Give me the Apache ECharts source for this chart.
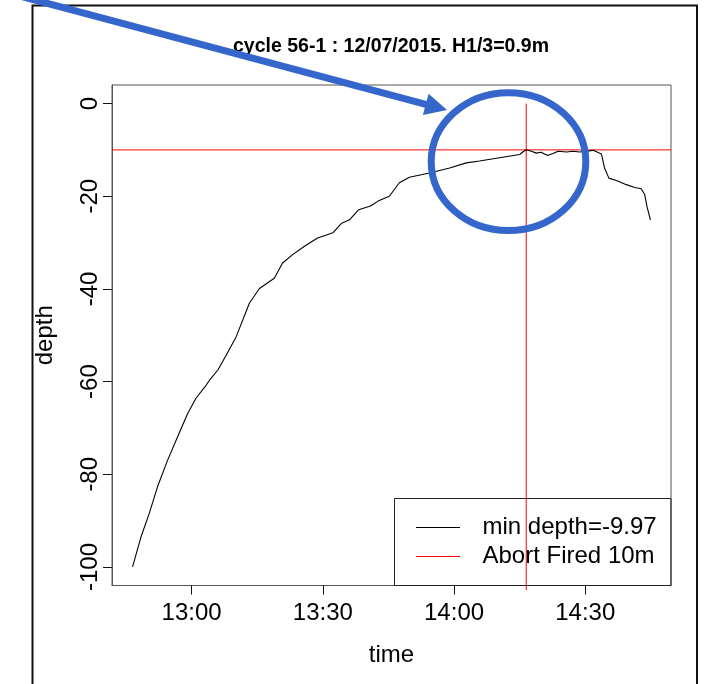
<!DOCTYPE html>
<html>
<head>
<meta charset="utf-8">
<script src="https://cdn.jsdelivr.net/npm/echarts@6/dist/echarts.min.js"></script>
<style>
  html, body { margin: 0; padding: 0; background: #ffffff; }
  #chart { width: 708px; height: 684px; }
</style>
</head>
<body>
<div id="chart"></div>
<script>
// Dive profile for cycle 56-1: time in minutes after midnight, depth in metres.
const timeMinutes = [
  766.5, 768.4, 770.3, 772.2, 774.5, 776.8, 779.1, 781.0, 783.3, 784.1,
  786.0, 787.9, 790.2, 793.2, 795.5, 798.9, 800.8, 803.1, 805.8, 808.8,
  812.3, 814.2, 816.1, 818.2, 820.9, 822.9, 825.2, 827.5, 829.8, 834.4,
  839.0, 842.8, 845.8, 850.4, 855.0, 855.7, 856.5, 857.7, 858.8, 859.9,
  861.4, 862.6, 863.8, 865.7, 867.2, 868.7, 871.8, 873.7, 874.4, 875.4,
  877.1, 879.4, 881.3, 882.8, 883.6, 884.1, 884.9
];
const depthValues = [
  -100.0, -93.6, -88.5, -82.7, -77.0, -71.9, -66.9, -63.6, -60.8, -59.7,
  -57.5, -54.3, -50.3, -43.1, -39.9, -37.7, -34.4, -32.6, -30.8, -29.0,
  -27.9, -25.9, -25.1, -22.9, -22.1, -20.9, -20.0, -17.1, -15.9, -15.0,
  -13.9, -12.8, -12.4, -11.7, -11.0, -10.45, -9.97, -10.3, -10.7, -10.5,
  -11.2, -10.8, -10.3, -10.45, -10.3, -10.45, -10.1, -10.9, -13.9, -16.1,
  -16.6, -17.5, -18.1, -18.4, -19.7, -22.2, -25.1
];

// Abort threshold (horizontal) and the moment it fired (vertical).
const abortDepth = -10;
const abortTime = 856.5;
const abortMarkerDepths = [0, -105];

// Axis extents and tick positions.
const timeRange = [761.8, 889.6];
const depthRange = [-104, 4];
const timeTicks = [780, 810, 840, 870];
const depthTicks = [-100, -80, -60, -40, -20, 0];

const titleText = 'cycle 56-1 : 12/07/2015. H1/3=0.9m';
const legendLabels = ['min depth=-9.97', 'Abort Fired 10m'];
const xAxisName = 'time';
const yAxisName = 'depth';

function hhmm(v) {
  const h = Math.floor(v / 60);
  const m = Math.round(v - h * 60);
  return h + ':' + String(m).padStart(2, '0');
}

const FONT = "'Liberation Sans', Arial, Helvetica, sans-serif";
const BLUE = '#3466CC';

const profile = timeMinutes.map((t, i) => [t, depthValues[i]]);
const thresholdLine = timeRange.map(t => [t, abortDepth]);
const fireLine = abortMarkerDepths.map(d => [abortTime, d]);

// Arrow geometry for the annotation pointing at the abort point.
const arrowTail = [16, -5];
const arrowTip = [447, 110];
const dx = arrowTip[0] - arrowTail[0], dy = arrowTip[1] - arrowTail[1];
const len = Math.sqrt(dx * dx + dy * dy);
const ux = dx / len, uy = dy / len;
const headLen = 22, headHalf = 11;
const baseX = arrowTip[0] - ux * headLen, baseY = arrowTip[1] - uy * headLen;

const chart = echarts.init(document.getElementById('chart'), null, { renderer: 'canvas' });

const axisLineStyle = { show: true, onZero: false, lineStyle: { color: '#555555', width: 1 } };

chart.setOption({
  animation: false,
  backgroundColor: '#ffffff',
  grid: {
    left: 112, right: 37, top: 85, bottom: 98.5,
    show: true, borderColor: '#555555', borderWidth: 1,
    backgroundColor: 'transparent'
  },
  xAxis: {
    type: 'value',
    min: timeRange[0], max: timeRange[1],
    name: xAxisName,
    nameLocation: 'middle',
    nameGap: 58,
    nameTextStyle: { fontFamily: FONT, fontSize: 24, color: '#000' },
    axisLine: axisLineStyle,
    splitLine: { show: false },
    axisTick: { show: true, length: 9, customValues: timeTicks, lineStyle: { color: '#111', width: 1 } },
    axisLabel: {
      customValues: timeTicks, formatter: hhmm, margin: 16,
      fontFamily: FONT, fontSize: 24, color: '#000'
    }
  },
  yAxis: {
    type: 'value',
    min: depthRange[0], max: depthRange[1],
    name: yAxisName,
    nameLocation: 'middle',
    nameRotate: 90,
    nameGap: 55,
    nameTextStyle: { fontFamily: FONT, fontSize: 24, color: '#000' },
    axisLine: axisLineStyle,
    splitLine: { show: false },
    axisTick: { show: true, length: 9, customValues: depthTicks, lineStyle: { color: '#111', width: 1 } },
    axisLabel: {
      customValues: depthTicks, rotate: 90, margin: 10,
      fontFamily: FONT, fontSize: 24, color: '#000'
    }
  },
  series: [
    {
      name: legendLabels[0],
      type: 'line',
      data: profile,
      symbol: 'none',
      lineStyle: { color: '#000000', width: 1.1 },
      z: 3
    },
    {
      name: legendLabels[1],
      type: 'line',
      data: thresholdLine,
      symbol: 'none',
      lineStyle: { color: '#ff0000', width: 1 },
      z: 2
    },
    {
      name: legendLabels[1] + ' time',
      type: 'line',
      data: fireLine,
      symbol: 'none',
      clip: false,
      lineStyle: { color: '#ff0000', width: 1 },
      z: 2
    }
  ],
  graphic: [
    // outer frame
    {
      type: 'polyline', silent: true, z: 10,
      shape: { points: [[32.5, 700], [32.5, 5.5], [697, 5.5], [697, 700]] },
      style: { stroke: '#111', lineWidth: 2, fill: null }
    },
    // title
    {
      type: 'text', z: 10, x: 391, y: 47,
      style: {
        text: titleText, fontFamily: FONT, fontWeight: 'bold', fontSize: 19.5,
        fill: '#000', align: 'center', verticalAlign: 'middle'
      }
    },
    // legend
    {
      type: 'rect', z: 10,
      shape: { x: 394.5, y: 498.5, width: 276.5, height: 87 },
      style: { fill: null, stroke: '#222', lineWidth: 1 }
    },
    {
      type: 'line', z: 10,
      shape: { x1: 416, y1: 527.5, x2: 460, y2: 527.5 },
      style: { stroke: '#000', lineWidth: 1 }
    },
    {
      type: 'line', z: 10,
      shape: { x1: 416, y1: 556.5, x2: 460, y2: 556.5 },
      style: { stroke: '#ff0000', lineWidth: 1 }
    },
    {
      type: 'text', z: 10, x: 482.5, y: 527.5,
      style: { text: legendLabels[0], fontFamily: FONT, fontSize: 24, fill: '#000', verticalAlign: 'middle' }
    },
    {
      type: 'text', z: 10, x: 482.5, y: 556.5,
      style: { text: legendLabels[1], fontFamily: FONT, fontSize: 24, fill: '#000', verticalAlign: 'middle' }
    },
    // annotation: circle around the abort point and the arrow pointing to it
    {
      type: 'ellipse', z: 20,
      shape: { cx: 508.5, cy: 161.7, rx: 77.3, ry: 68.9 },
      style: { fill: null, stroke: BLUE, lineWidth: 7 }
    },
    {
      type: 'line', z: 20,
      shape: { x1: arrowTail[0], y1: arrowTail[1], x2: baseX + ux * 2, y2: baseY + uy * 2 },
      style: { stroke: BLUE, lineWidth: 7 }
    },
    {
      type: 'polygon', z: 20,
      shape: {
        points: [
          arrowTip,
          [baseX - uy * headHalf, baseY + ux * headHalf],
          [baseX + uy * headHalf, baseY - ux * headHalf]
        ]
      },
      style: { fill: BLUE }
    }
  ]
});
</script>
</body>
</html>
